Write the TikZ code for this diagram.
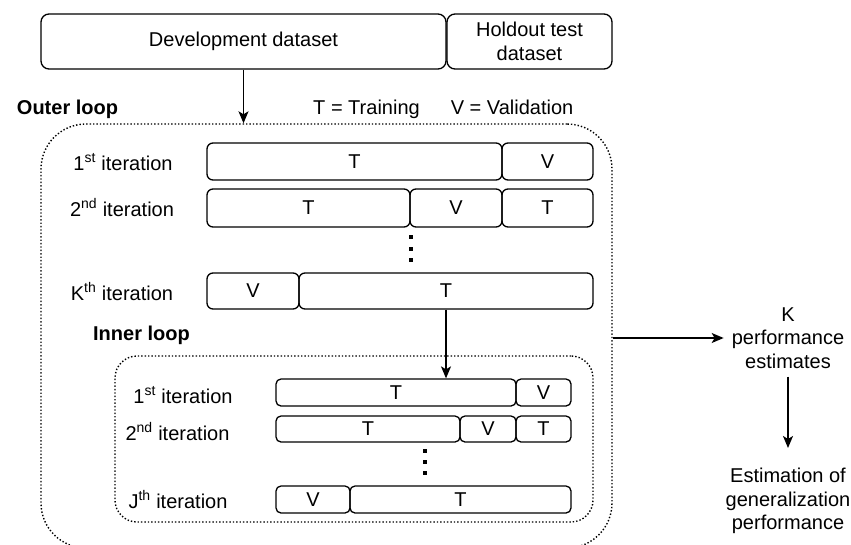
\documentclass[tikz,border=0pt]{standalone}
\usepackage{fontspec}
\setmainfont{Liberation Sans}
\usetikzlibrary{arrows.meta}
\newcommand\bseg[7][6pt]{%
  \node[segbox, rounded corners=#1, minimum width={#4-#3}, minimum height={#6-#5}] (#2) at ({(#3+#4)/2},{(#5+#6)/2}) {#7};}
\begin{document}
\begin{tikzpicture}[x=1pt,y=-1pt,
  every node/.style={font=\fontsize{20}{23.5}\selectfont},
  segbox/.style={draw=black, line width=1.3pt, inner sep=0pt, align=center},
  lbl/.style={anchor=base, inner sep=0pt},
  arr/.style={-{Stealth[length=12pt,width=10pt,inset=3pt]}, line width=1.3pt},
  dotbox/.style={draw=black, line width=1.4pt, dash pattern=on 1.4pt off 2pt, inner sep=0pt},
  dotmark/.style={fill=black, minimum width=3.5pt, minimum height=4pt, inner sep=0pt},
  txt/.style={align=center, inner sep=8pt}]
\useasboundingbox (0,0) rectangle (851,544);

% top datasets
\bseg[8pt]{dev}{41}{446}{14}{69}{Development dataset}
\bseg[8pt]{hold}{447}{612}{14}{69}{Holdout test\\dataset}

% legend / titles
\node[lbl, font=\fontsize{20}{23.5}\selectfont\bfseries] (outerlbl) at (67.5,114) {Outer loop};
\node[lbl] (legT) at (366.5,114) {T = Training};
\node[lbl] (legV) at (512,114) {V = Validation};

% outer dotted box
\node[dotbox, rounded corners=45pt, minimum width=571pt, minimum height=424pt] (outer) at (326.5,336) {};

% outer rows
\node[lbl] (ol1) at (123,170) {1\textsuperscript{st} iteration};
\bseg{o1T}{207}{502}{143}{180}{T}
\bseg{o1V}{502}{593}{143}{180}{V}

\node[lbl] (ol2) at (122,216.5) {2\textsuperscript{nd} iteration};
\bseg{o2T}{207}{410}{189}{227}{T}
\bseg{o2V}{410}{502}{189}{227}{V}
\bseg{o2Tb}{502}{593}{189}{227}{T}

\node[dotmark] (od1) at (411,237) {};
\node[dotmark] (od2) at (411,248.5) {};
\node[dotmark] (od3) at (411,260) {};

\node[lbl] (olK) at (122,300) {K\textsuperscript{th} iteration};
\bseg{oKV}{207}{299}{273}{309}{V}
\bseg{oKT}{299}{593}{273}{309}{T}

% inner loop
\node[lbl, font=\fontsize{20}{23.5}\selectfont\bfseries] (innerlbl) at (141.5,340) {Inner loop};
\node[dotbox, rounded corners=22pt, minimum width=478pt, minimum height=166pt] (inner) at (354,439) {};

\node[lbl] (il1) at (183,403) {1\textsuperscript{st} iteration};
\bseg[5pt]{i1T}{276}{516}{379}{406}{T}
\bseg[5pt]{i1V}{516}{571}{379}{406}{V}

\node[lbl] (il2) at (177.5,440) {2\textsuperscript{nd} iteration};
\bseg[5pt]{i2T}{276}{460}{416}{442}{T}
\bseg[5pt]{i2V}{460}{516}{416}{442}{V}
\bseg[5pt]{i2Tb}{516}{571}{416}{442}{T}

\node[dotmark] (id1) at (425,451) {};
\node[dotmark] (id2) at (425,462) {};
\node[dotmark] (id3) at (425,473) {};

\node[lbl] (ilJ) at (178,508) {J\textsuperscript{th} iteration};
\bseg[5pt]{iJV}{276}{350}{486}{513}{V}
\bseg[5pt]{iJT}{350}{571}{486}{513}{T}

% right side
\node[txt] (kperf) at (788,338) {K\\performance\\estimates};
\node[txt] (estim) at (788,501) {Estimation of\\generalization\\performance};

% connectors
\draw[arr] (dev.south) -- (dev.south |- outer.north);
\draw[arr] (oKT.south) -- (oKT.south |- i1T.north);
\draw[arr] (outer.east |- kperf.west) -- (kperf.west);
\draw[arr, shorten >=12pt] (kperf.south) -- (estim.north);
\end{tikzpicture}
\end{document}
